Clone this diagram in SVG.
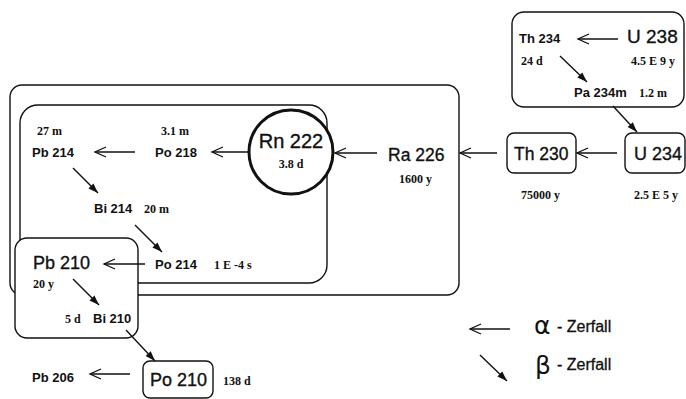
<svg xmlns="http://www.w3.org/2000/svg" width="686" height="399" viewBox="0 0 686 399">
<style>
.box{fill:#fff;stroke:#111;stroke-width:1.4}
.frame{fill:none;stroke:#111;stroke-width:1.4}
.nm{font-family:"Liberation Sans",Arial,sans-serif;font-weight:bold;font-size:13px;fill:#111}
.big{font-family:"Liberation Sans",Arial,sans-serif;font-size:18px;fill:#111;stroke:#111;stroke-width:0.35}
.hl{font-family:"Liberation Serif","Times New Roman",serif;font-weight:bold;font-size:12px;fill:#111}
.lg{font-family:"Liberation Sans",Arial,sans-serif;font-size:16px;fill:#111;stroke:#111;stroke-width:0.3}
.gk{font-family:"DejaVu Sans","Liberation Sans",sans-serif;font-size:25px;fill:#111}
.a{fill:none;stroke:#111;stroke-width:1.3;marker-end:url(#ah)}
.b{fill:none;stroke:#111;stroke-width:1.4;marker-end:url(#bh)}
</style>
<defs>
<marker id="ah" markerUnits="userSpaceOnUse" viewBox="-12 -7 14 14" markerWidth="14" markerHeight="14" refX="0" refY="0" orient="auto">
<path d="M-11,-5 L0,0 L-11,5" fill="none" stroke="#111" stroke-width="1.3"/>
</marker>
<marker id="bh" markerUnits="userSpaceOnUse" viewBox="-12 -7 14 14" markerWidth="14" markerHeight="14" refX="0" refY="0" orient="auto">
<path d="M-10,-3.5 L0,0 L-10,3.5 Z" fill="#111"/>
</marker>
</defs>

<g id="frame-ra226">
<rect class="frame" x="10" y="85" width="449" height="210" rx="12"/>
</g>
<g id="frame-rn222">
<rect class="frame" x="20" y="105" width="307" height="178" rx="18"/>
</g>

<g id="U238-group">
<rect class="box" x="512" y="12" width="172" height="95" rx="12"/>
<text class="nm" x="519" y="43">Th 234</text>
<text class="big" x="627" y="43" style="font-size:19px">U 238</text>
<text class="hl" x="521" y="65">24 d</text>
<text class="hl" x="631" y="65">4.5 E 9 y</text>
<text class="nm" x="574" y="97">Pa 234m</text>
<text class="hl" x="639" y="97">1.2 m</text>
</g>

<g id="U234">
<rect class="box" x="625" y="133" width="60" height="40" rx="7"/>
<text class="big" x="634" y="160">U 234</text>
<text class="hl" x="634" y="199">2.5 E 5 y</text>
</g>

<g id="Th230">
<rect class="box" x="507" y="133" width="69" height="40" rx="7"/>
<text class="big" x="514" y="160" style="font-size:17.5px">Th 230</text>
<text class="hl" x="521" y="199">75000 y</text>
</g>

<g id="Ra226">
<text class="big" x="388" y="161" style="font-size:17.5px">Ra 226</text>
<text class="hl" x="399" y="183">1600 y</text>
</g>

<g id="Rn222">
<circle cx="291" cy="152" r="42" fill="#fff" stroke="#111" stroke-width="3"/>
<text class="big" x="291" y="148" text-anchor="middle" style="font-size:20px">Rn 222</text>
<text class="hl" x="291" y="168" text-anchor="middle">3.8 d</text>
</g>

<g id="Po218">
<text class="nm" x="155" y="157">Po 218</text>
<text class="hl" x="161" y="135">3.1 m</text>
</g>

<g id="Pb214">
<text class="nm" x="32" y="157">Pb 214</text>
<text class="hl" x="37" y="135">27 m</text>
</g>

<g id="Bi214">
<text class="nm" x="94" y="213">Bi 214</text>
<text class="hl" x="144" y="213">20 m</text>
</g>

<g id="Po214">
<text class="nm" x="155" y="269">Po 214</text>
<text class="hl" x="214" y="269">1 E -4 s</text>
</g>

<g id="Pb210-group">
<rect class="box" x="15" y="238" width="123" height="100" rx="12"/>
<text class="big" x="33" y="269" style="font-size:18px">Pb 210</text>
<text class="hl" x="33" y="288">20 y</text>
<text class="hl" x="65" y="323">5 d</text>
<text class="nm" x="93" y="323">Bi 210</text>
</g>

<g id="Po210">
<rect class="box" x="143" y="361" width="70" height="37" rx="7"/>
<text class="big" x="150" y="386" style="font-size:18px">Po 210</text>
<text class="hl" x="223" y="385">138 d</text>
</g>

<g id="Pb206">
<text class="nm" x="32" y="382">Pb 206</text>
</g>

<g id="connectors">
<line class="a" x1="618" y1="39" x2="578" y2="39"/>
<line class="b" x1="560" y1="56" x2="587" y2="82"/>
<line class="b" x1="613" y1="106" x2="637" y2="132"/>
<line class="a" x1="617" y1="153" x2="577" y2="153"/>
<line class="a" x1="497" y1="153" x2="460" y2="153"/>
<line class="a" x1="377" y1="153" x2="335" y2="153"/>
<line class="a" x1="248" y1="152" x2="212" y2="152"/>
<line class="a" x1="135" y1="152" x2="95" y2="152"/>
<line class="b" x1="73" y1="168" x2="98" y2="193"/>
<line class="b" x1="135" y1="225" x2="162" y2="252"/>
<line class="a" x1="145" y1="264" x2="104" y2="264"/>
<line class="b" x1="73" y1="279" x2="99" y2="305"/>
<line class="b" x1="126" y1="330" x2="155" y2="361"/>
<line class="a" x1="130" y1="374" x2="90" y2="374"/>
</g>

<g id="legend">
<line class="a" x1="510" y1="329" x2="470" y2="329"/>
<line class="b" x1="480" y1="355" x2="507" y2="381"/>
<text class="gk" x="534" y="334">α</text>
<text class="lg" x="557" y="332">- Zerfall</text>
<text class="gk" x="535" y="374">β</text>
<text class="lg" x="557" y="370">- Zerfall</text>
</g>
</svg>
